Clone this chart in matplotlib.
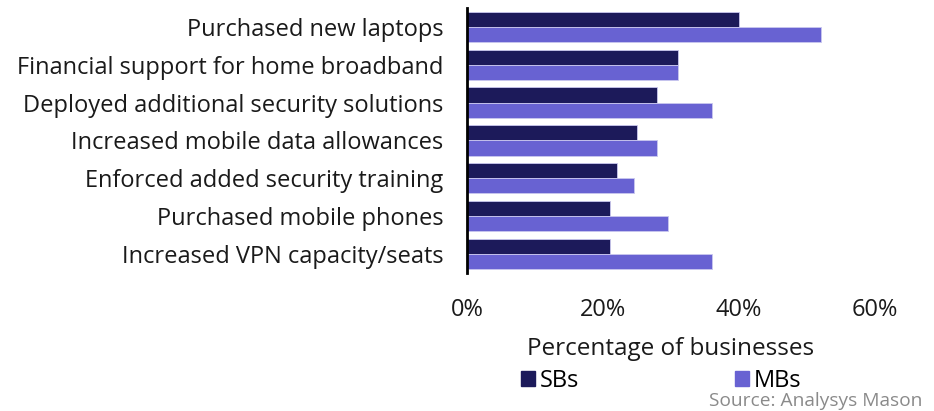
import numpy as np
import matplotlib.pyplot as plt
from matplotlib.patches import Patch

# Actions taken by businesses (top to bottom)
categories = [
    'Purchased new laptops',
    'Financial support for home broadband',
    'Deployed additional security solutions',
    'Increased mobile data allowances',
    'Enforced added security training',
    'Purchased mobile phones',
    'Increased VPN capacity/seats',
]
sb_values = [40, 31, 28, 25, 22, 21, 21]    # small businesses, %
mb_values = [52, 31, 36, 28, 24.5, 29.5, 36]  # medium businesses, %
x_ticks = [0, 20, 40, 60]
x_tick_labels = ['0%', '20%', '40%', '60%']

sb_color = '#1c1a5a'
mb_color = '#6862d2'

plt.rcParams['font.family'] = ['Open Sans', 'DejaVu Sans']

fig = plt.figure(figsize=(9.34, 4.11), dpi=100)
ax = fig.add_axes([0.5, 0.336, 0.4368, 0.6445])

y = np.arange(len(categories))
bar_h = 0.4
ax.barh(y - bar_h / 2, sb_values, height=bar_h, color=sb_color,
        edgecolor='#c9c7ee', linewidth=0.6)
ax.barh(y + bar_h / 2, mb_values, height=bar_h, color=mb_color,
        edgecolor='#c9c7ee', linewidth=0.6)

ax.set_ylim(6.5, -0.5)
ax.set_xlim(0, 60)
ax.set_yticks(y)
ax.set_yticklabels(categories, fontsize=17, color='#1a1a1a')
ax.set_xticks(x_ticks)
ax.set_xticklabels(x_tick_labels, fontsize=17, color='#1a1a1a')
ax.tick_params(axis='both', length=0)
ax.tick_params(axis='y', pad=17)
ax.tick_params(axis='x', pad=18)

for side in ['top', 'right', 'bottom']:
    ax.spines[side].set_visible(False)
ax.spines['left'].set_linewidth(2)
ax.spines['left'].set_color('black')

ax.set_xlabel('Percentage of businesses', fontsize=17.5, labelpad=11,
              color='#1a1a1a')

handles = [Patch(color=sb_color, label='SBs'), Patch(color=mb_color, label='MBs')]
fig.legend(handles=handles, loc='center', bbox_to_anchor=(0.708, 0.073),
           ncol=2, frameon=False, fontsize=17, handlelength=0.6,
           handleheight=0.6, handletextpad=0.2, columnspacing=6.6)

fig.text(0.988, 0.003, 'Source: Analysys Mason', ha='right', va='bottom',
         fontsize=13.8, color='#8a8a8a')

fig.savefig('out.png', dpi=100)
